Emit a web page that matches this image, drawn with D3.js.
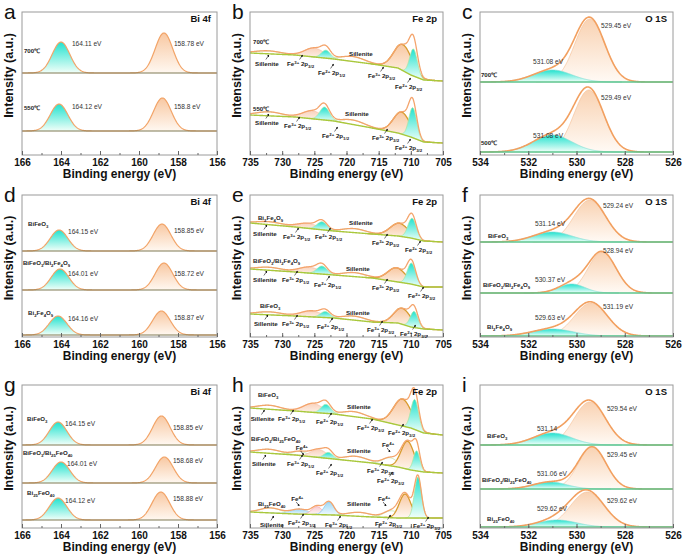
<!DOCTYPE html>
<html>
<head>
<meta charset="utf-8">
<script src="https://cdn.jsdelivr.net/npm/d3@7"></script>
<style>
body{margin:0;background:#fff;}
text{font-family:Arial,"Liberation Sans",Helvetica,sans-serif;}
.tk text{font-size:10px;font-weight:bold;fill:#111;}
.tk line{stroke:#666;}
.xt{font-size:12px;font-weight:bold;fill:#111;}
.yt{font-size:12.5px;font-weight:bold;fill:#111;}
.let{font-size:21px;fill:#111;}
.ttl{font-size:9.5px;font-weight:bold;fill:#111;}
.v{font-size:6.6px;fill:#333;}
.n{font-size:6.1px;font-weight:bold;fill:#222;}
.f{font-size:6.2px;font-weight:bold;fill:#222;}
</style>
</head>
<body>
<svg id="fig" width="685" height="559"></svg>
<script>
// ---------- data ----------
// peak = [type, centre eV, height, sigma]; drawn in list order
// Bi 4f
const biTicks = [166,164,162,160,158,156];
const aSpectra = [
  {bg:82, peaks:[["bi1",164.0,31,0.45],["bi2",158.72,40,0.45]]},
  {bg:24, peaks:[["bi1",164.1,27,0.45],["bi2",158.8,33,0.45]]}
];
const aLabels = [
  ["700℃",165.9,102,"n"],["164.11 eV",163.44,109,"v"],["158.78 eV",158.21,109,"v"],
  ["550℃",165.9,45,"n"],["164.12 eV",163.44,46,"v"],["158.8 eV",158.21,46,"v"]
];
const dSpectra = [
  {bg:86, peaks:[["bi1",164.1,21,0.45],["bi2",158.82,27,0.45]]},
  {bg:47, peaks:[["bi1",164.05,21,0.45],["bi2",158.72,27,0.45]]},
  {bg:2,  peaks:[["bi1",164.15,19,0.45],["bi2",158.85,24,0.45]]}
];
const dLabels = [
  ["BiFeO_{3}",165.69,111,"n"],["164.15 eV",163.64,103,"v"],["158.85 eV",158.21,104,"v"],
  ["BiFeO_{3}/Bi_{2}Fe_{4}O_{9}",165.95,72,"n"],["164.01 eV",163.64,61,"v"],["158.72 eV",158.21,61,"v"],
  ["Bi_{2}Fe_{4}O_{9}",165.69,22,"n"],["164.16 eV",163.64,16,"v"],["158.87 eV",158.21,17,"v"]
];
const gSpectra = [
  {bg:83, peaks:[["bi1",164.15,23,0.45],["bi2",158.85,29,0.45]]},
  {bg:45, peaks:[["bi1",164.0,21,0.45],["bi2",158.7,26,0.45]]},
  {bg:8,  peaks:[["bi1",164.15,22,0.45],["bi2",158.88,28,0.45]]}
];
const gLabels = [
  ["BiFeO_{3}",165.74,107,"n"],["164.15 eV",163.79,102,"v"],["158.85 eV",158.26,98,"v"],
  ["BiFeO_{3}/Bi_{25}FeO_{40}",165.95,73,"n"],["164.01 eV",163.69,62,"v"],["158.68 eV",158.26,65,"v"],
  ["Bi_{25}FeO_{40}",165.74,33,"n"],["164.12 eV",163.79,25,"v"],["158.88 eV",158.26,27,"v"]
];

// O 1s
const oTicks = [534,532,530,528,526];
const cSpectra = [
  {bg:73, peaks:[["oL",529.45,63,0.62],["oH",531.0,12,0.8]]},
  {bg:3,  peaks:[["oL",529.49,62,0.62],["oH",531.0,17,0.8]]}
];
const cLabels = [
  ["531.08 eV",531.80,91,"v"],["529.45 eV",528.98,127,"v"],["700℃",533.96,78,"n"],
  ["529.49 eV",528.98,55,"v"],["531.08 eV",531.80,17,"v"],["500℃",533.96,10,"n"]
];
const fSpectra = [
  {bg:95, peaks:[["oL",529.45,42,0.66],["oH",531.0,10,0.8]]},
  {bg:44, peaks:[["oL",528.94,41,0.58],["oH",530.2,9,0.55]]},
  {bg:1,  peaks:[["oL",529.4,33,0.68],["oH",531.0,7,0.85]]}
];
const fLabels = [
  ["531.14 eV",531.72,111,"v"],["529.24 eV",528.90,129,"v"],["BiFeO_{3}",533.67,99,"n"],
  ["528.94 eV",528.90,84,"v"],["530.37 eV",531.72,55,"v"],["BiFeO_{3}/Bi_{2}Fe_{4}O_{9}",533.88,50,"n"],
  ["531.19 eV",528.90,28,"v"],["529.63 eV",531.72,17,"v"],["Bi_{2}Fe_{4}O_{9}",533.71,8,"n"]
];
const iSpectra = [
  {bg:83, peaks:[["oL",529.45,43,0.66],["oH",531.0,12,0.8]]},
  {bg:39, peaks:[["oL",529.35,42,0.58],["oH",531.1,7,0.7]]},
  {bg:1,  peaks:[["oL",529.55,35,0.7],["oH",530.8,7,0.8]]}
];
const iLabels = [
  ["529.54 eV",528.74,117,"v"],["531.14",531.64,97,"v"],["BiFeO_{3}",533.71,90,"n"],
  ["529.45 eV",528.74,71,"v"],["531.06 eV",531.64,52,"v"],["BiFeO_{3}/Bi_{25}FeO_{40}",533.92,46,"n"],
  ["529.62 eV",528.74,25,"v"],["529.62 eV",531.64,17,"v"],["Bi_{25}FeO_{40}",533.71,7,"n"]
];

// Fe 2p  (background = [eV, level] points)
const feTicks = [735,730,725,720,715,710,705];
const bSpectra = [
  {bg:[[735,102],[728,100],[722,96],[716,91],[712,87],[710,80],[708,75],[705,74]],
   peaks:[["sat",732.2,3,2],["f3b",725.0,9,1.5],["f2b",723.2,8,0.7],["sat",719.0,5,1.8],["f3",711.2,26,1.4],["f2",709.6,27,0.6]]},
  {bg:[[735,40],[728,38],[722,34],[716,27],[712,22],[710,18],[708,13],[705,12]],
   peaks:[["sat",732.0,4,2],["f3b",725.3,8,1.5],["f2b",723.4,13,0.75],["sat",719.0,4.5,1.8],["f3",711.4,22,1.3],["f2",709.7,30,0.6]]}
];
const bLabels = [
  ["700℃",734.53,111,"n"],["Sillenite",719.61,99,"f"],["Sillenite",734.22,89,"f",1],
  ["Fe^{3+} 2p_{3/2}",729.25,89,"f",1],["Fe^{2+} 2p_{1/2}",724.43,80,"f",1],
  ["Fe^{3+} 2p_{3/2}",716.66,77,"f",1],["Fe^{2+} 2p_{3/2}",712.46,66,"f",1],
  ["550℃",734.53,44,"n"],["Sillenite",720.23,39,"f"],["Sillenite",734.22,30,"f",1],
  ["Fe^{3+} 2p_{1/2}",729.71,27,"f",1],["Fe^{2+} 2p_{1/2}",723.81,17,"f",1],
  ["Fe^{3+} 2p_{3/2}",716.04,15,"f",1],["Fe^{2+} 2p_{3/2}",712.46,5,"f",1]
];
const eSpectra = [
  {bg:[[735,114],[728,110],[722,106],[716,103],[712,101],[710,99],[708,96],[705,95]],
   peaks:[["sat",732,3,2],["f3b",726,5,1.6],["f2b",723.8,8,0.8],["sat",718.8,4,1.8],["f3",711.8,13,1.4],["f2",709.8,20,0.65]]},
  {bg:[[735,68],[728,65],[722,62],[716,59],[712,55],[710,53],[708,50],[705,50]],
   peaks:[["sat",732,3,2],["f3b",725.8,6,1.6],["f2b",723.8,8,0.8],["sat",718.8,4,1.8],["f3",712.2,14,1.4],["f2",709.9,21,0.65]]},
  {bg:[[735,23],[728,21],[722,19],[716,15],[712,14],[710,10],[708,8],[705,7]],
   peaks:[["sat",732,3,2],["f3b",725.5,6,1.6],["f2b",723.3,6,0.75],["sat",718.8,4,1.8],["f3",711.3,16,1.3],["f2",709.5,16,0.6]]}
];
const eLabels = [
  ["Bi_{2}Fe_{4}O_{9}",733.76,117,"n"],["Sillenite",719.61,112,"f"],["Sillenite",734.53,101,"f",1],
  ["Fe^{3+} 2p_{1/2}",729.87,98,"f",1],["Fe^{2+} 2p_{1/2}",724.90,98,"f",1],
  ["Fe^{3+} 2p_{3/2}",716.04,92,"f",1],["Fe^{2+} 2p_{3/2}",710.91,85,"f",1],
  ["BiFeO_{3}/Bi_{2}Fe_{4}O_{9}",734.53,74,"n"],["Sillenite",720.08,66,"f"],["Sillenite",734.53,55,"f",1],
  ["Fe^{3+} 2p_{1/2}",730.03,55,"f",1],["Fe^{2+} 2p_{1/2}",725.05,50,"f",1],
  ["Fe^{3+} 2p_{3/2}",716.04,47,"f",1],["Fe^{2+} 2p_{3/2}",710.44,39,"f",1],
  ["BiFeO_{3}",733.45,29,"n"],["Sillenite",720.08,22,"f"],["Sillenite",734.38,11,"f",1],
  ["Fe^{3+} 2p_{1/2}",730.03,11,"f",1],["Fe^{2+} 2p_{1/2}",724.58,8,"f",1],
  ["Fe^{3+} 2p_{3/2}",716.81,5,"f",1],["Fe^{2+} 2p_{3/2}",711.68,1,"f",1]
];
const hSpectra = [
  {bg:[[735,120],[728,117],[722,114],[716,109],[712,103],[710,100],[708,95],[705,93]],
   peaks:[["sat",732,4,1.8],["f3b",725.2,9,1.5],["f2b",723.2,9,0.75],["sat",718.8,5,1.8],["f3",711.3,27,1.4],["f2",709.4,30,0.6]]},
  {bg:[[735,76],[728,73],[722,69],[716,65],[712,61],[710,58],[708,56],[705,55]],
   peaks:[["sat",732,4,1.8],["f4",727.2,4,1.2],["f3b",724.3,8,1.2],["f2b",722.8,6,0.7],["sat",718.5,5,1.8],["f4",713.2,8,1.2],["f3",710.5,28,1.0],["f2",709.1,20,0.5]]},
  {bg:[[735,16],[728,14],[722,13],[716,11],[712,10],[705,10]],
   peaks:[["sat",731.8,5,1.6],["bl",727.3,5,1.3],["pk",724.6,8,0.8],["b2",722.7,13,0.75],["sat",718,4,1.8],["f4",713,7,1.2],["f3",710.9,24,0.9],["f2",708.9,41,0.55]]}
];
const hLabels = [
  ["BiFeO_{3}",733.76,131,"n"],["Sillenite",719.92,119,"f"],["Sillenite",734.9,107,"f",1],
  ["Fe^{3+} 2p_{1/2}",730.65,107,"f",1],["Fe^{2+} 2p_{1/2}",724.74,104,"f",1],
  ["Fe^{3+} 2p_{3/2}",718.37,98,"f",1],["Fe^{2+} 2p_{3/2}",713.55,93,"f",1],
  ["BiFeO_{3}/Bi_{25}FeO_{40}",734.84,87,"n"],["Fe^{4+}",727.9,78,"f",-1],["Sillenite",719.92,75,"f"],
  ["Fe^{4+}",714.48,81,"f",-1],["Sillenite",734.69,62,"f",1],["Fe^{3+} 2p_{1/2}",729.25,62,"f",1],
  ["Fe^{2+} 2p_{1/2}",724.74,53,"f",1],["Fe^{3+} 2p_{3/2}",716.81,55,"f",1],["Fe^{2+} 2p_{3/2}",715.26,45,"f",1],
  ["Bi_{25}FeO_{40}",733.76,22,"n"],["Fe^{4+}",728.6,27,"f",-1],["Sillenite",719.92,22,"f"],
  ["Fe^{4+}",715.10,27,"f",-1],["Sillenite",733.45,1,"f",1],["Fe^{2+} 2p_{1/2}",729.09,3,"f",1],
  ["Fe^{3+} 2p_{1/2}",723.34,1,"f",1],["Fe^{2+} 2p_{3/2}",715.57,2,"f",1],["Fe^{2+} 2p_{3/2}",709.66,0,"f",1]
];

// ---------- styles ----------
const peakStyle = {
  bi1:{fill:"url(#gCyan)", stroke:"none"},
  bi2:{fill:"url(#gPeach)", stroke:"none"},
  oH:{fill:"url(#gCyan)", stroke:"#86ddd2", sw:0.7},
  oL:{fill:"url(#gPeachO)", stroke:"#f5c29a", sw:0.7},
  f3:{fill:"url(#gPeach)", stroke:"#d89b2e", sw:1.3},
  f2:{fill:"url(#gCyan)", stroke:"#a8e6a2", sw:0.8},
  f3b:{fill:"url(#gPeachL)", stroke:"#f3bca8", sw:0.7},
  f2b:{fill:"url(#gCyan)", stroke:"#a8e6a2", sw:0.7},
  sat:{fill:"none", stroke:"#bfe2a4", sw:0.8},
  f4:{fill:"none", stroke:"#bfe2a4", sw:0.8},
  bl:{fill:"url(#gBlue)", stroke:"#9fd2f0", sw:0.7},
  pk:{fill:"url(#gPink)", stroke:"#f4a4ac", sw:0.8},
  b2:{fill:"url(#gBlue)", stroke:"#7cc4ec", sw:0.8}
};
const family = {
  bi:{dom:[166,156], ticks:biTicks, minor:1, step:0.02, env:"#f2a468", envW:1.2, bgc:"#807b55", bgW:1.2, title:"Bi 4f"},
  fe:{dom:[735,705], ticks:feTicks, minor:2.5, step:0.05, env:"#f4a46c", envW:1.3, bgc:"#a9c83c", bgW:1.4, title:"Fe 2p"},
  o:{dom:[534,526], ticks:oTicks, minor:1, step:0.02, env:"#f2a060", envW:1.6, bgc:"#5cc48e", bgW:1.3, title:"O 1S"}
};
const cols = [[22,217],[250,443],[480,673]];
const rows = [[12,155],[195,337],[385,528]];

const svg = d3.select("#fig");
const defs = svg.append("defs");
function grad(id, top, bot){
  const g = defs.append("linearGradient").attr("id", id).attr("x1",0).attr("y1",0).attr("x2",0).attr("y2",1);
  g.append("stop").attr("offset","0%").attr("stop-color", top);
  g.append("stop").attr("offset","100%").attr("stop-color", bot);
}
grad("gCyan", "#22e2cf", "#f2fff9");
grad("gPeach", "#f8c8a2", "#fff8f1");
grad("gPeachO", "#f9d2b2", "#fffaf5");
grad("gPeachL", "#f9d3bd", "#fff9f5");
grad("gBlue", "#9fd8f4", "#f4fbff");
grad("gPink", "#f8ccd0", "#fff8f8");
defs.append("marker").attr("id","arr").attr("viewBox","0 0 6 6").attr("refX",5).attr("refY",3)
  .attr("markerWidth",4).attr("markerHeight",4).attr("orient","auto")
  .append("path").attr("d","M0,0L6,3L0,6z").attr("fill","#111");

// sub/superscript markup -> tspans
function rich(t, str){
  const re = /([_^])\{([^}]*)\}|([^_^]+)/g;
  let m, cur = 0;
  while ((m = re.exec(str)) !== null){
    let txt = m[3], off = 0, small = false;
    if (m[1]) { txt = m[2]; small = true; off = m[1] === "_" ? 1.5 : -2.4; }
    const ts = t.append("tspan").text(txt).attr("dy", off - cur);
    if (small) ts.style("font-size", "70%");
    cur = off;
  }
}

function panel(letter, c, r, fam, spectra, labels){
  const F = family[fam];
  const [x0,x1] = cols[c], [y0,y1] = rows[r];
  const x = d3.scaleLinear().domain(F.dom).range([x0,x1]);
  const y = d3.scaleLinear().domain([0,143]).range([y1, y1-143]);
  const g = svg.append("g");
  const cid = "clip" + letter;
  defs.append("clipPath").attr("id", cid).append("rect")
    .attr("x", x0).attr("y", y0).attr("width", x1-x0).attr("height", y1-y0);
  const plot = g.append("g").attr("clip-path", `url(#${cid})`);

  const lo = F.dom[1], hi = F.dom[0];
  const xs = d3.range(lo, hi + F.step/2, F.step);
  const gauss = (p, e) => p[2] * Math.exp(-0.5 * ((e - p[1]) / p[3]) ** 2);

  spectra.forEach(sp => {
    let bgF;
    if (typeof sp.bg === "number") bgF = () => sp.bg;
    else {
      const s = d3.scaleLinear().domain(sp.bg.map(d => d[0])).range(sp.bg.map(d => d[1]));
      bgF = e => s(e);
    }
    // fitted components
    sp.peaks.forEach(p => {
      const st = peakStyle[p[0]];
      const pts = xs.filter(e => Math.abs(e - p[1]) <= 3.6 * p[3]);
      if (st.fill !== "none") {
        plot.append("path").datum(pts)
          .attr("d", d3.area().x(e => x(e)).y0(e => y(bgF(e))).y1(e => y(bgF(e) + gauss(p, e))))
          .attr("fill", st.fill).attr("stroke", "none");
      }
      if (st.stroke !== "none") {
        plot.append("path").datum(pts)
          .attr("d", d3.line().x(e => x(e)).y(e => y(bgF(e) + gauss(p, e))))
          .attr("fill", "none").attr("stroke", st.stroke).attr("stroke-width", st.sw);
      }
    });
    // envelope
    plot.append("path").datum(xs)
      .attr("d", d3.line().x(e => x(e)).y(e => y(bgF(e) + d3.sum(sp.peaks, p => gauss(p, e)))))
      .attr("fill", "none").attr("stroke", F.env).attr("stroke-width", F.envW);
    // background
    plot.append("path").datum(xs)
      .attr("d", d3.line().x(e => x(e)).y(e => y(bgF(e))))
      .attr("fill", "none").attr("stroke", F.bgc).attr("stroke-width", F.bgW);
  });

  // frame
  g.append("rect").attr("x", x0).attr("y", y0).attr("width", x1-x0).attr("height", y1-y0)
    .attr("fill", "none").attr("stroke", "#9a9a9a").attr("stroke-width", 1);

  // axes
  const minors = d3.range(lo, hi + 0.001, F.minor);
  const ax = g.append("g").attr("class","tk").attr("transform", `translate(0,${y1})`)
    .call(d3.axisBottom(x).tickValues(F.ticks).tickSize(-4).tickSizeOuter(0).tickPadding(4).tickFormat(d3.format("d")));
  ax.select(".domain").remove();
  const mn = g.append("g").attr("class","tk").attr("transform", `translate(0,${y1})`)
    .call(d3.axisBottom(x).tickValues(minors).tickSize(-2).tickSizeOuter(0).tickFormat(""));
  mn.select(".domain").remove();

  g.append("text").attr("class","xt").attr("x", (x0+x1)/2).attr("y", y1 + 23)
    .attr("text-anchor","middle").text("Binding energy (eV)");
  g.append("text").attr("class","yt").attr("transform", `translate(${x0-9},${(y0+y1)/2 - 8}) rotate(-90)`)
    .attr("text-anchor","middle").text("Intensity (a.u.)");
  g.append("text").attr("class","let").attr("x", x0 - 18).attr("y", y0 + 7).text(letter);
  g.append("text").attr("class","ttl").attr("x", x1 - 6).attr("y", y0 + 10)
    .attr("text-anchor","end").text(F.title);

  // annotations
  labels.forEach(L => {
    const lx = x(L[1]), ly = y(L[2]);
    const t = g.append("text").attr("class", L[3]).attr("x", lx).attr("y", ly);
    rich(t, L[0]);
    if (L[4]) {
      const w = t.node().getComputedTextLength();
      const ax0 = lx + w * 0.5;
      const up = L[4] > 0;
      g.append("line")
        .attr("x1", ax0 - 1).attr("y1", up ? ly - 6.5 : ly + 1)
        .attr("x2", ax0 + 2).attr("y2", up ? ly - 11 : ly + 5)
        .attr("stroke", "#111").attr("stroke-width", 0.6).attr("marker-end", "url(#arr)");
    }
  });
}

panel("a", 0, 0, "bi", aSpectra, aLabels);
panel("b", 1, 0, "fe", bSpectra, bLabels);
panel("c", 2, 0, "o",  cSpectra, cLabels);
panel("d", 0, 1, "bi", dSpectra, dLabels);
panel("e", 1, 1, "fe", eSpectra, eLabels);
panel("f", 2, 1, "o",  fSpectra, fLabels);
panel("g", 0, 2, "bi", gSpectra, gLabels);
panel("h", 1, 2, "fe", hSpectra, hLabels);
panel("i", 2, 2, "o",  iSpectra, iLabels);
</script>
</body>
</html>
